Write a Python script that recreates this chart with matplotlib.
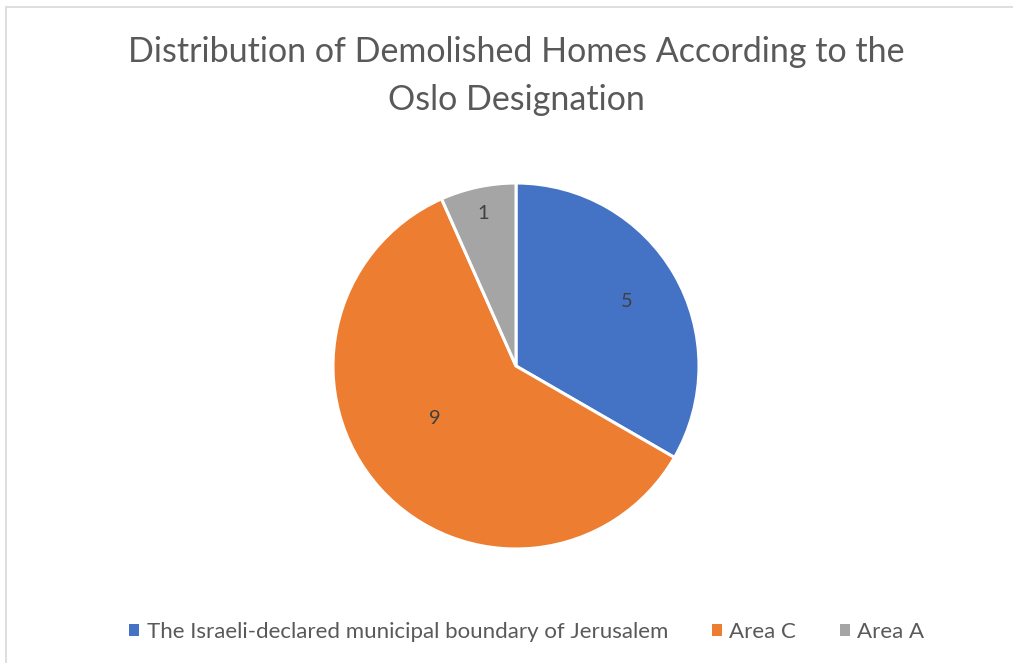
import numpy as np
import matplotlib.pyplot as plt
from matplotlib.patches import Rectangle

plt.rcParams['font.family'] = ['Lato', 'DejaVu Sans']

# Data
labels = ['The Israeli-declared municipal boundary of Jerusalem', 'Area C', 'Area A']
values = [5, 9, 1]
colors = ['#4472C4', '#ED7D31', '#A5A5A5']
title = 'Distribution of Demolished Homes According to the\nOslo Designation'

# label placement (radius fraction, angle shift in degrees) - mimics Excel
label_pos = [(0.70, 0), (0.53, -9), (0.85, 0)]

W, H = 1013, 663
fig = plt.figure(figsize=(W / 100, H / 100), dpi=100)

# light chart border
fig.patches.append(Rectangle((6 / W, -0.1), 1.2, 1 - 7 / H + 0.1, transform=fig.transFigure,
                             fill=False, edgecolor='#D9D9D9', linewidth=1.2))

fig.text(516 / W, 1 - 76 / H, title, ha='center', va='center', fontsize=24.5,
         color='#595959', linespacing=1.58)

r = 183
cx, cy = 516, 366
ax = fig.add_axes([(cx - r) / W, 1 - (cy + r) / H, 2 * r / W, 2 * r / H])
wedges, _ = ax.pie(values, colors=colors, startangle=90, counterclock=False, radius=1,
                   wedgeprops=dict(edgecolor='white', linewidth=2.2))
ax.set_xlim(-1, 1)
ax.set_ylim(-1, 1)
ax.set_aspect('equal')

for w, v, (rf, da) in zip(wedges, values, label_pos):
    ang = np.deg2rad((w.theta1 + w.theta2) / 2 + da)
    ax.text(rf * np.cos(ang), rf * np.sin(ang), str(v), ha='center', va='center',
            fontsize=14.5, color='#404040')

leg = fig.legend(wedges, labels, loc='center', bbox_to_anchor=(0.520, 1 - 632 / H),
                 ncol=3, frameon=False, fontsize=16, handlelength=0.45, handleheight=0.45,
                 handletextpad=0.35, columnspacing=1.95, labelcolor='#595959')
for h in leg.legend_handles:
    h.set_edgecolor('none')

fig.savefig('out.png', dpi=100)
